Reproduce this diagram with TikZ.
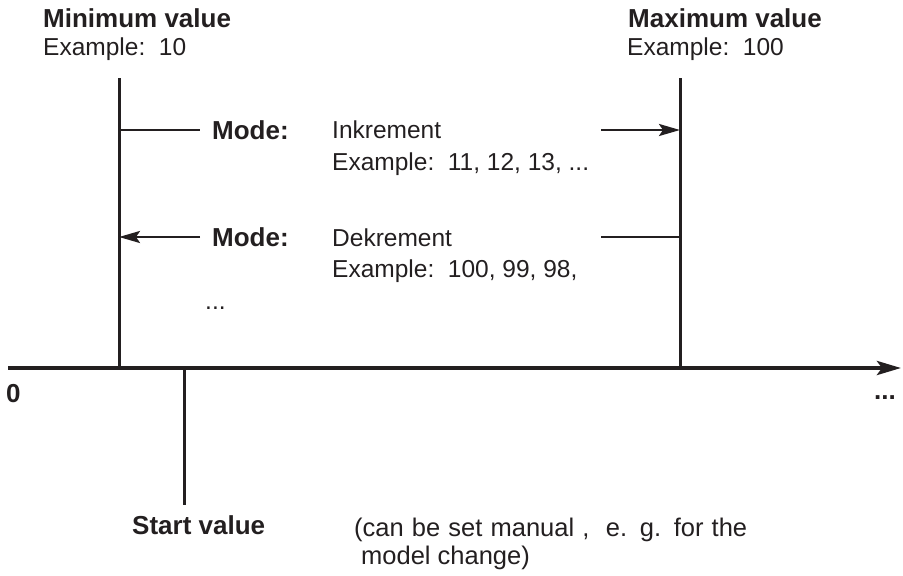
\documentclass[tikz,border=0pt]{standalone}
\usepackage{fontspec}
\setmainfont{Liberation Sans}
\usetikzlibrary{arrows.meta}
\definecolor{ink}{HTML}{231F20}
\begin{document}
\begin{tikzpicture}[x=1pt,y=-1pt,
  lbl/.style={anchor=base west, inner sep=0pt, text=ink, font=\fontsize{24.5}{28}\selectfont},
  note/.style={anchor=base west, inner sep=0pt, text=ink, font=\fontsize{25.5}{28}\selectfont},
  bld/.style={anchor=base west, inner sep=0pt, text=ink, font=\fontsize{26}{30}\selectfont\bfseries},
  vline/.style={draw=ink, line width=3pt},
  hline/.style={draw=ink, line width=2.5pt},
  axisline/.style={draw=ink, line width=4pt, -{Stealth[length=24pt,width=14pt,inset=5pt]}},
  harrow/.style={hline, -{Stealth[length=21pt,width=12pt,inset=4pt]}}]
\useasboundingbox (0,0) rectangle (903,576);
% coordinates
\coordinate (axL) at (8,368);
\coordinate (axR) at (901,368);
\coordinate (minTop) at (119,78);
\coordinate (minBot) at (119,368);
\coordinate (maxTop) at (680,78);
\coordinate (maxBot) at (680,368);
\coordinate (stTop) at (184,368);
\coordinate (stBot) at (184,505);
\coordinate (incL) at (119,130);
\coordinate (incM) at (200,130);
\coordinate (incS) at (601,130);
\coordinate (incR) at (680,130);
\coordinate (decL) at (119,237);
\coordinate (decM) at (200,237);
\coordinate (decS) at (601,237);
\coordinate (decR) at (680,237);
% lines
\draw[axisline] (axL) -- (axR);
\draw[vline] (minTop) -- (minBot);
\draw[vline] (maxTop) -- (maxBot);
\draw[vline] (stTop) -- (stBot);
\draw[hline] (incL) -- (incM);
\draw[harrow] (incS) -- (incR);
\draw[harrow] (decM) -- (decL);
\draw[hline] (decS) -- (decR);
% texts
\node[bld] (minT) at (43,27) {Minimum value};
\node[lbl] (minE) at (43,55) {Example:\ \ 10};
\node[bld] (maxT) at (628,27) {Maximum value};
\node[lbl] (maxE) at (627,55) {Example:\ \ 100};
\node[bld] (mode1) at (212,139) {Mode:};
\node[lbl] (inc) at (332,138) {Inkrement};
\node[lbl] (incE) at (332,170) {Example:\ \ 11, 12, 13, ...};
\node[bld] (mode2) at (212,246) {Mode:};
\node[lbl] (dec) at (332,246) {Dekrement};
\node[lbl] (decE) at (332,277) {Example:\ \ 100, 99, 98,};
\node[lbl] (dots) at (205,309) {...};
\node[bld] (zero) at (6,402) {0};
\node[bld] (more) at (874,399) {...};
\node[bld] (start) at (132,534) {Start value};
\node[note] (note1) at (354,536) {\makebox[393pt][s]{(can be set manual ,\ \ e. g. for the}};
\node[note] (note2) at (361,564) {model change)};
\end{tikzpicture}
\end{document}
